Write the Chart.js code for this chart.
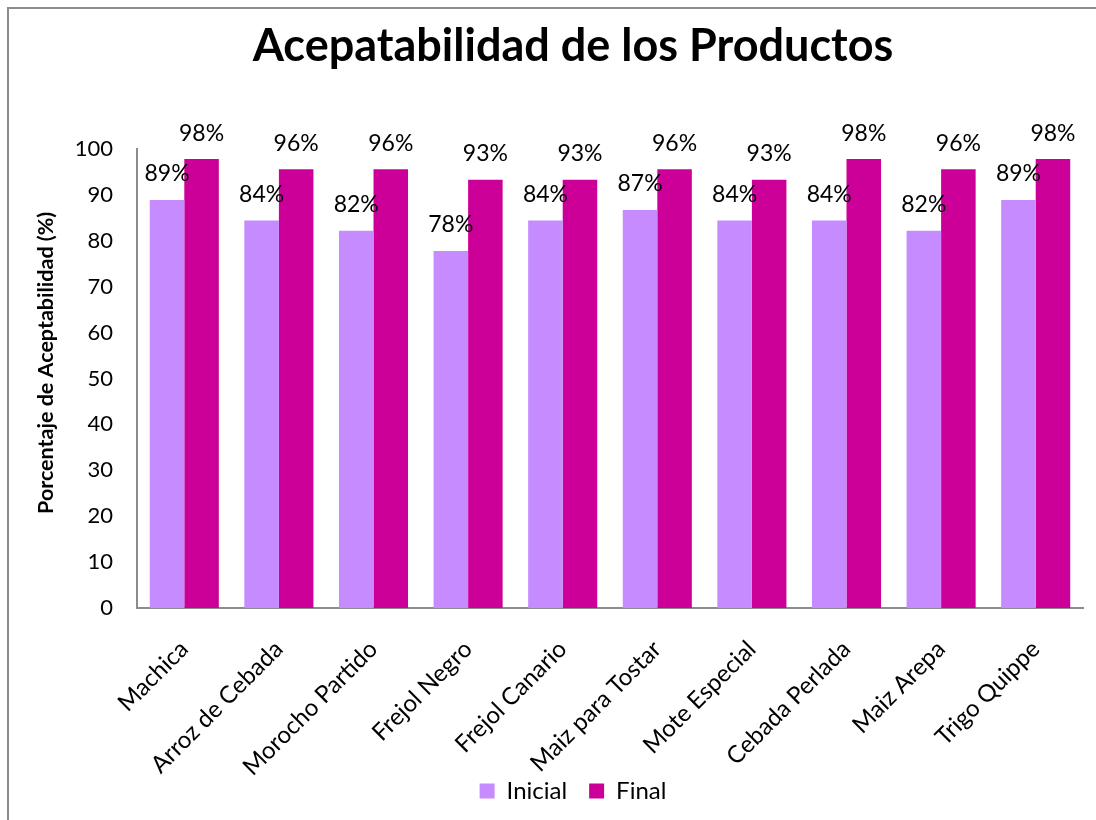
<!DOCTYPE html>
<html>
<head>
<meta charset="utf-8">
<script src="https://cdn.jsdelivr.net/npm/chart.js@4"></script>
<style>
    html, body { margin: 0; padding: 0; background: #fff; overflow: hidden; }
    #clip { position: absolute; left: 0; top: 0; width: 1096px; height: 820px; overflow: hidden; }
    #frame {
        position: absolute; left: 7px; top: 7px; width: 1089px; height: 813px;
        border-left: 2px solid #8c8c8c; border-top: 2px solid #8c8c8c; box-sizing: border-box;
    }
    #box { position: absolute; left: 8px; top: 8px; width: 1150px; height: 830px; }
</style>
</head>
<body>
<div id="clip">
    <div id="frame"></div>
    <div id="box"><canvas id="chart"></canvas></div>
</div>
<script>
const productos = ["Machica", "Arroz de Cebada", "Morocho Partido", "Frejol Negro", "Frejol Canario",
    "Maiz para Tostar", "Mote Especial", "Cebada Perlada", "Maiz Arepa", "Trigo Quippe"];
const inicial = [88.9, 84.4, 82.2, 77.8, 84.4, 86.7, 84.4, 84.4, 82.2, 88.9];
const final = [97.8, 95.6, 95.6, 93.3, 93.3, 95.6, 93.3, 97.8, 95.6, 97.8];

const FONT = "Lato";

// etiquetas de porcentaje encima de cada barra
const etiquetas = {
    id: "etiquetas",
    afterLayout(chart) {
        // las etiquetas giradas del eje x pasan por debajo de su caja, no recortarlas
        chart.scales.x.bottom += 40;
    },
    afterDatasetsDraw(chart) {
        const c = chart.ctx;
        c.save();
        c.font = "23px " + FONT;
        c.fillStyle = "#000";
        c.textAlign = "center";
        c.textBaseline = "middle";
        chart.data.datasets.forEach((ds, i) => {
            chart.getDatasetMeta(i).data.forEach((bar, j) => {
                c.fillText(Math.round(ds.data[j]) + "%", bar.x, bar.y - 26);
            });
        });
        c.restore();
    }
};

const ctx = document.getElementById("chart").getContext("2d");
const chart = new Chart(ctx, {
    type: "bar",
    data: {
        labels: productos,
        datasets: [
            { label: "Inicial", data: inicial, backgroundColor: "#c58bff", borderWidth: 0 },
            { label: "Final", data: final, backgroundColor: "#cc0099", borderWidth: 0 }
        ]
    },
    options: {
        responsive: true,
        maintainAspectRatio: false,
        animation: false,
        datasets: { bar: { barPercentage: 1.0, categoryPercentage: 0.73 } },
        layout: { padding: { left: 0, right: 20, top: 0, bottom: 25 } },
        scales: {
            x: {
                grid: { display: false, drawTicks: false },
                border: { color: "#8c8c8c", width: 2 },
                ticks: { color: "#000", font: { family: FONT, size: 24 }, minRotation: 45, maxRotation: 45, padding: 27 },
                afterFit: s => { s.height = 149; }
            },
            y: {
                min: 0, max: 100,
                grid: { display: false, drawTicks: false },
                border: { color: "#8c8c8c", width: 2 },
                ticks: { stepSize: 10, color: "#000", font: { family: FONT, size: 22 }, padding: 24 },
                title: {
                    display: true, text: "      Porcentaje de Aceptabilidad (%)", color: "#000",
                    font: { family: FONT, size: 21.5, weight: "bold" }, padding: { top: 25, bottom: 0 }
                },
                afterFit: s => { s.width = 129; }
            },
            yR: {
                position: "right", display: true,
                grid: { display: false }, border: { display: false }, ticks: { display: false },
                afterFit: s => { s.width = 55; }
            }
        },
        plugins: {
            title: {
                display: true, text: "Acepatabilidad de los Productos", color: "#000",
                font: { family: FONT, size: 45, weight: "bold" },
                padding: { top: 11, bottom: 76 }
            },
            legend: {
                position: "bottom",
                labels: { color: "#000", font: { family: FONT, size: 24 }, boxWidth: 15, boxHeight: 15, padding: 22 }
            },
            tooltip: { enabled: false }
        }
    },
    plugins: [etiquetas]
});
</script>
</body>
</html>
